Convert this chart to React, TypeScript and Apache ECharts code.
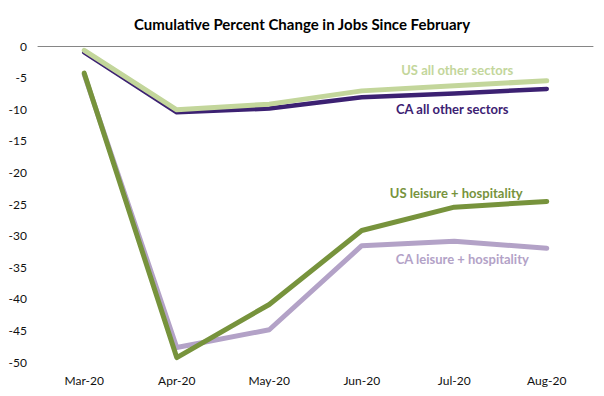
import React, { useEffect, useRef } from "react";
import * as echarts from "echarts";

const categories = ["Mar-20", "Apr-20", "May-20", "Jun-20", "Jul-20", "Aug-20"];
const usAllOther = [-0.7, -10.1, -9.2, -7.1, -6.3, -5.5];
const caAllOther = [-1.0, -10.5, -9.9, -8.1, -7.5, -6.8];
const usLeisure = [-4.3, -49.3, -40.9, -29.2, -25.5, -24.6];
const caLeisure = [-4.5, -47.7, -44.9, -31.6, -30.9, -32.0];
const yTicks = { min: -50, max: 0, interval: 5 };

const FONT = "Lato, 'Open Sans', sans-serif";

function withLabel(
  values: number[],
  text: string,
  color: string,
  position: "top" | "bottom",
  distance: number,
  dx: number
) {
  return values.map((v, i) =>
    i === 4
      ? {
          value: v,
          label: {
            show: true,
            position,
            distance,
            offset: [dx, 0],
            formatter: text,
            color,
            fontFamily: FONT,
            fontWeight: "bold",
            fontSize: 13,
          },
        }
      : v
  );
}

export default function App() {
  const ref = useRef<HTMLDivElement>(null);
  useEffect(() => {
    if (!ref.current) return;
    const chart = echarts.init(ref.current, undefined, { renderer: "svg" });
    const lineSeries = (name: string, data: any[], color: string, width: number) => ({
      name,
      type: "line",
      data,
      symbol: "circle",
      symbolSize: 0,
      showSymbol: true,
      lineStyle: { color, width, cap: "round", join: "round" },
      itemStyle: { color },
      z: 2,
    });
    chart.setOption({
      animation: false,
      backgroundColor: "#ffffff",
      title: {
        text: "Cumulative Percent Change in Jobs Since February",
        left: "center",
        top: 11,
        textStyle: { fontFamily: FONT, fontWeight: "bold", fontSize: 15, color: "#000" },
      },
      grid: { left: 38, right: 11, top: 46, bottom: 34, containLabel: false },
      xAxis: {
        type: "category",
        data: categories,
        boundaryGap: true,
        axisLine: { lineStyle: { color: "#868686", width: 1 } },
        axisTick: { show: false },
        axisLabel: { color: "#111", fontFamily: FONT, fontSize: 12, margin: 12 },
        splitLine: { show: false },
      },
      yAxis: {
        type: "value",
        min: yTicks.min,
        max: yTicks.max,
        interval: yTicks.interval,
        axisLine: { show: false },
        axisTick: { show: false },
        splitLine: { show: false },
        axisLabel: { color: "#111", fontFamily: FONT, fontSize: 12, margin: 11 },
      },
      series: [
        lineSeries(
          "CA all other sectors",
          withLabel(caAllOther, "CA all other sectors", "#3c2172", "bottom", 9, -2),
          "#3c2172",
          4.5
        ),
        lineSeries(
          "US all other sectors",
          withLabel(usAllOther, "US all other sectors", "#c3d69b", "top", 9, 3),
          "#c3d69b",
          5
        ),
        lineSeries(
          "CA leisure + hospitality",
          withLabel(caLeisure, "CA leisure + hospitality", "#b3a2c7", "bottom", 11, 8),
          "#b3a2c7",
          5
        ),
        lineSeries(
          "US leisure + hospitality",
          withLabel(usLeisure, "US leisure + hospitality", "#77933c", "top", 8, 2),
          "#77933c",
          5
        ),
      ],
    });
    return () => chart.dispose();
  }, []);
  return (
    <div
      ref={ref}
      style={{ position: "fixed", left: 0, top: 0, width: 604, height: 396, background: "#fff" }}
    />
  );
}
